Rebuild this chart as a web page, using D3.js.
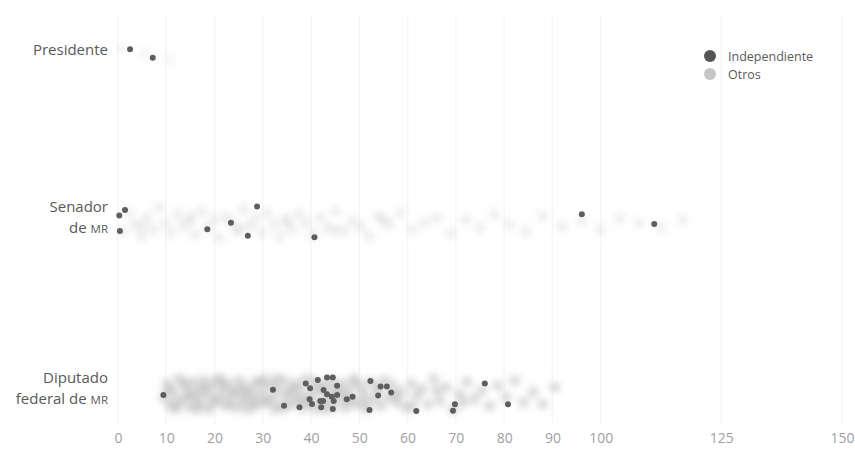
<!DOCTYPE html>
<html lang="es">
    <head>
        <meta charset="utf-8">
        <title>Independientes por cargo</title>
        <script type="text/javascript" src="https://cdn.jsdelivr.net/npm/d3@7"></script>
		<style>
			body {margin: 0; background: #fff;}
			svg {display: block; font-family: "Open Sans", sans-serif;}
		</style>
    </head>
    <body>
		<svg width="855" height="449"></svg>
        <script type="text/javascript">
		// categorias (filas)
		var cargos = ["Presidente", "Senador", "Diputado"];
		var etiquetas = [["Presidente"], ["Senador", "de ", "MR"], ["Diputado", "federal de ", "MR"]];

		// marcas del eje x
		var marcas = [0, 10, 20, 30, 40, 50, 60, 70, 80, 90, 100, 125, 150];

		// independientes : [valor, desplazamiento vertical (-1..1)]
		var indepPresidente = [[2.5, -0.15], [7.2, 0.32]];
		var indepSenador = [[1.45, -0.72], [0.27, -0.41], [0.4, 0.44], [28.8, -0.91], [23.4, -0.02],
			[18.5, 0.35], [26.9, 0.71], [40.7, 0.79], [96.1, -0.48], [111.1, 0.06]];
		var indepDiputado = [[9.4, 0.06], [32.1, -0.24], [34.4, 0.65], [37.6, 0.74], [38.9, -0.59],
			[39.8, -0.32], [41.4, -0.78], [43.3, -0.91], [44.5, -0.91], [45.4, -0.46], [42.6, -0.22],
			[43.3, 0.02], [44.3, 0.15], [45.4, 0.06], [39.7, 0.29], [40.2, 0.56], [41.9, 0.39],
			[42.5, 0.39], [44.7, 0.39], [42.1, 0.74], [44.5, 0.83], [47.4, 0.29], [48.6, 0.15],
			[52.3, -0.72], [52.1, 0.89], [54.4, -0.41], [55.7, -0.41], [56.6, -0.09], [53.9, 0.09],
			[61.8, 0.94], [69.8, 0.57], [69.4, 0.93], [76.0, -0.59], [80.8, 0.57]];

		// otros candidatos
		var otrosPresidente = [[0.8, -0.2], [5.5, 0.1], [10.5, 0.45]];
		var otrosSenador = [[1.0,0.5],[2.2,-0.6],[3.5,0.1],[4.8,0.8],[6.0,-0.3],[7.3,0.4],[8.5,-0.9],[9.8,0.0],
			[11.0,0.6],[12.3,-0.5],[13.5,0.2],[14.8,-0.1],[16.0,0.7],[17.3,-0.7],[18.5,0.3],[19.8,-0.2],
			[21.0,0.9],[22.3,-0.4],[23.5,0.0],[24.8,0.5],[26.0,-0.8],[27.3,0.2],[28.5,-0.3],[29.8,0.6],
			[31.0,-0.6],[32.3,0.1],[33.5,0.8],[34.8,-0.2],[36.0,0.4],[37.5,-0.5],[39.0,0.0],[40.5,0.7],
			[42.0,-0.3],[43.5,0.3],[45.0,-0.7],[46.8,0.5],[48.5,-0.1],[50.3,0.2],[52.0,0.8],[54.0,-0.4],
			[56.0,0.1],[58.5,-0.6],[61.0,0.4],[63.5,0.0],[66.0,-0.3],[69.0,0.6],[72.0,-0.2],[75.0,0.3],
			[78.0,-0.5],[81.0,0.1],[84.5,0.5],[88.0,-0.4],[92.0,0.2],[96.0,-0.1],[100.0,0.4],[104.0,-0.3],
			[108.0,0.0],[112.5,0.3],[117.0,-0.2],[5,0.2],[15,-0.4],[25,0.3],[35,-0.1],[45,0.4],[55,-0.2]];
		var otrosDiputado = [[9.5,0.2],[10.2,-0.6],[10.8,0.7],[11.5,-0.1],[12.1,0.9],[12.6,-0.9],[13.3,0.4],
			[13.9,-0.4],[14.4,0.1],[15.0,0.8],[15.6,-0.7],[16.1,0.3],[16.7,-0.2],[17.2,0.6],[17.8,-0.8],
			[18.3,0.0],[18.9,0.9],[19.5,-0.5],[20.0,0.5],[20.6,-0.9],[21.1,0.2],[21.7,-0.3],[22.3,0.7],
			[22.8,-0.6],[23.4,0.1],[24.0,-0.1],[24.5,0.8],[25.1,-0.8],[25.7,0.4],[26.2,-0.4],[26.8,0.9],
			[27.4,-0.2],[27.9,0.3],[28.5,-0.7],[29.1,0.6],[29.7,0.0],[30.2,-0.9],[30.8,0.5],[31.4,-0.5],
			[32.0,0.2],[32.5,0.9],[33.1,-0.3],[33.7,0.7],[34.3,-0.8],[34.8,0.1],[35.4,-0.1],[36.0,0.6],
			[36.6,-0.6],[37.2,0.3],[37.8,-0.4],[38.3,0.8],[38.9,-0.9],[39.5,0.4],[40.1,0.0],[40.7,-0.7],
			[41.3,0.9],[41.9,-0.2],[42.5,0.5],[43.0,-0.5],[43.6,0.2],[44.2,-0.8],[44.8,0.7],[45.4,-0.3],
			[46.0,0.1],[46.6,-0.6],[47.2,0.8],[47.8,-0.1],[48.4,0.4],[49.0,-0.9],[49.6,0.6],[50.3,-0.4],
			[50.9,0.0],[51.6,0.9],[52.3,-0.7],[53.0,0.3],[53.8,-0.2],[54.5,0.7],[55.3,-0.8],[56.1,0.2],
			[57.0,-0.5],[57.9,0.5],[58.8,-0.1],[59.8,0.8],[60.8,-0.6],[61.9,0.1],[63.0,-0.3],[64.2,0.6],
			[65.4,-0.9],[66.7,0.4],[68.0,-0.4],[69.4,0.9],[70.8,0.0],[72.3,-0.7],[73.8,0.3],[75.4,-0.2],
			[77.0,0.7],[78.7,-0.5],[80.4,0.2],[82.2,-0.8],[84.0,0.5],[86.0,-0.1],[88.0,0.6],[90.5,-0.4],
			[10.5,-0.3],[12.0,0.5],[13.5,-0.7],[15.2,0.0],[16.5,0.9],[18.0,-0.4],[19.8,0.3],[21.4,-0.8],
			[23.0,0.6],[24.7,-0.2],[26.3,0.1],[28.0,0.7],[29.5,-0.6],[31.0,0.4],[32.8,-0.9],[34.5,0.8],
			[36.2,-0.3],[38.0,0.2],[40.0,0.6],[41.6,-0.5],[43.4,0.9],[45.0,-0.1],[47.0,0.3],[48.8,-0.7],
			[51.0,0.5],[54.0,-0.4],[57.5,0.1],[61.0,0.7],[66.0,-0.2],[71.5,0.5]];

		var otros = [otrosPresidente, otrosSenador, otrosDiputado];
		var independientes = [indepPresidente, indepSenador, indepDiputado];
		var opacidadOtros = [0.2, 0.32, 0.7];

		var svg = d3.select("svg");

		// desenfoque para que los otros formen una banda suave
		svg.append("defs")
			.append("filter")
				.attr("id", "difuso")
				.attr("x", "-10%").attr("y", "-60%")
				.attr("width", "120%").attr("height", "220%")
			.append("feGaussianBlur")
				.attr("stdDeviation", 3.6);

		var echelleX = d3.scaleLinear()
							.domain([0, 150])
							.range([118, 842]);

		var echelleFila = d3.scalePoint()
							.domain(cargos)
							.range([52, 394]);

		var echelleJitter = d3.scaleLinear()
							.domain([-1, 1])
							.range([-17, 17]);

		// lineas verticales de fondo
		svg.append("g")
			.selectAll("line")
			.data(marcas)
			.enter()
			.append("line")
				.attr("x1", function (d) { return echelleX(d); })
				.attr("x2", function (d) { return echelleX(d); })
				.attr("y1", 15)
				.attr("y2", 425)
				.attr("stroke", "#f7f7f7")
				.attr("stroke-width", 1.5);

		// eje x (solo etiquetas)
		var axeX = d3.axisBottom(echelleX)
						.tickValues(marcas)
						.tickSize(0)
						.tickPadding(0);
		var gAxe = svg.append("g")
			.attr("transform", "translate(0, 433.5)")
			.call(axeX);
		gAxe.select(".domain").remove();
		gAxe.selectAll("text")
			.attr("fill", "#a0a0a0")
			.style("font-family", "'Open Sans', sans-serif")
			.style("font-size", "14px");

		// puntos de otros candidatos
		cargos.forEach(function (cargo, i) {
			svg.append("g")
				.attr("filter", "url(#difuso)")
				.selectAll("circle")
				.data(otros[i])
				.enter()
				.append("circle")
					.attr("cx", function (d) { return echelleX(d[0]); })
					.attr("cy", function (d) { return echelleFila(cargo) + echelleJitter(d[1]); })
					.attr("r", 5)
					.attr("fill", "#bdbdbd")
					.attr("fill-opacity", opacidadOtros[i]);
		});

		// puntos de independientes
		cargos.forEach(function (cargo, i) {
			svg.append("g")
				.selectAll("circle")
				.data(independientes[i])
				.enter()
				.append("circle")
					.attr("cx", function (d) { return echelleX(d[0]); })
					.attr("cy", function (d) { return echelleFila(cargo) + echelleJitter(d[1]) * 18 / 17; })
					.attr("r", 3)
					.attr("fill", "#5e5e5e");
		});

		// etiquetas de filas
		etiquetas.forEach(function (lineas, i) {
			var y = echelleFila(cargos[i]);
			if (lineas.length == 1) {
				svg.append("text")
					.attr("x", 108)
					.attr("y", y + 3)
					.attr("text-anchor", "end")
					.attr("fill", "#595959")
					.style("font-size", "15px")
					.text(lineas[0]);
			} else {
				svg.append("text")
					.attr("x", 108)
					.attr("y", y - 11)
					.attr("text-anchor", "end")
					.attr("fill", "#595959")
					.style("font-size", "15px")
					.text(lineas[0]);
				var t = svg.append("text")
					.attr("x", 108)
					.attr("y", y + 10)
					.attr("text-anchor", "end")
					.attr("fill", "#595959")
					.style("font-size", "15px");
				t.append("tspan").text(lineas[1]);
				t.append("tspan").style("font-size", "11.5px").text(lineas[2]);
			}
		});

		// leyenda
		var leyenda = [["Independiente", "#555555"], ["Otros", "#c6c6c6"]];
		var gLey = svg.append("g");
		gLey.selectAll("circle")
			.data(leyenda)
			.enter()
			.append("circle")
				.attr("cx", 710)
				.attr("cy", function (d, i) { return 56 + i * 18; })
				.attr("r", 6)
				.attr("fill", function (d) { return d[1]; });
		gLey.selectAll("text")
			.data(leyenda)
			.enter()
			.append("text")
				.attr("x", 728)
				.attr("y", function (d, i) { return 60.5 + i * 18; })
				.attr("fill", "#5a5a5a")
				.style("font-size", "12.5px")
				.text(function (d) { return d[0]; });
		</script>
    </body>
</html>
